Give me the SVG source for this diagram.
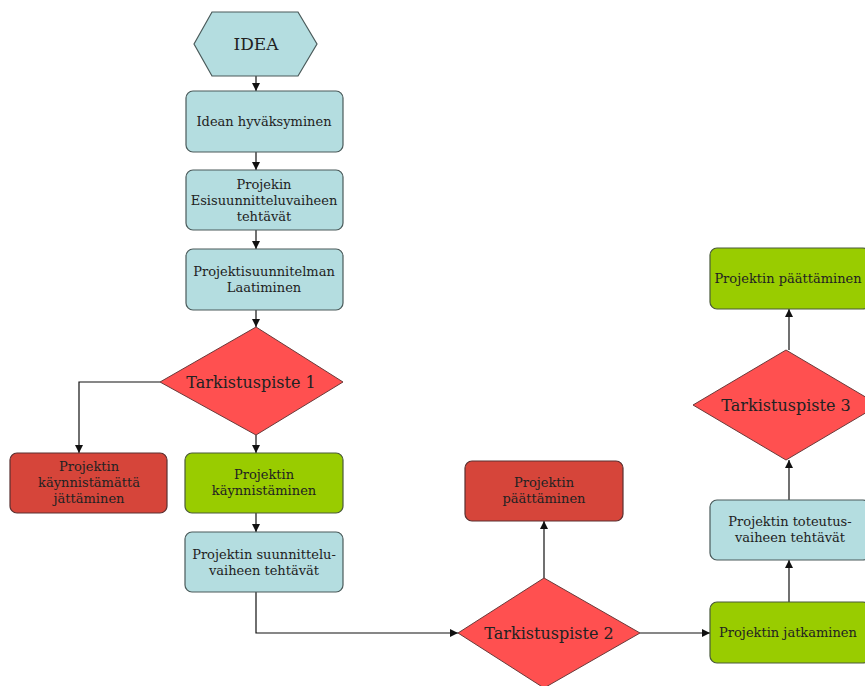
<svg xmlns="http://www.w3.org/2000/svg" width="865" height="686" viewBox="0 0 865 686">
<style>
.blue{fill:#b4dde0;stroke:#4a5a5a;stroke-width:1.2}
.green{fill:#99cc00;stroke:#4a5a3a;stroke-width:1.2}
.dred{fill:#d6453a;stroke:#5a3030;stroke-width:1.2}
.dia{fill:#ff5050;stroke:#6a3a3a;stroke-width:1}
text{font-family:"DejaVu Serif","Liberation Serif",serif;fill:#222;text-anchor:middle}
.t{font-size:13px}
.d{font-size:16px}
.c{fill:none;stroke:#111;stroke-width:1.2;marker-end:url(#ah)}
</style>
<defs>
<marker id="ah" viewBox="0 0 10 10" refX="10" refY="5" markerWidth="8" markerHeight="8" markerUnits="userSpaceOnUse" orient="auto">
<path d="M0,0L10,5L0,10z" fill="#111"/>
</marker>
</defs>
<rect width="865" height="686" fill="#fff"/>
<g id="connectors">
<path class="c" d="M256,76V91"/>
<path class="c" d="M256,152V170"/>
<path class="c" d="M256,230V249"/>
<path class="c" d="M256,310V327"/>
<path class="c" d="M160,382H79V453"/>
<path class="c" d="M256,435V453"/>
<path class="c" d="M256,513V532"/>
<path class="c" d="M256,592V633H458"/>
<path class="c" d="M544,578V521"/>
<path class="c" d="M640,633H710"/>
<path class="c" d="M789,602V560"/>
<path class="c" d="M789,500V460"/>
<path class="c" d="M789,350V309"/>
</g>
<g id="idea">
<polygon class="blue" points="194,44 212,12 298,12 317,44 298,76 212,76"/>
<text x="256" y="50" style="font-size:17px">IDEA</text>
</g>
<g id="hyvaksyminen">
<rect class="blue" x="186" y="91" width="157" height="61" rx="7"/>
<text class="t" x="264" y="126">Idean hyväksyminen</text>
</g>
<g id="esisuunnittelu">
<rect class="blue" x="186" y="170" width="157" height="60" rx="7"/>
<text class="t" x="264" y="189">Projekin</text>
<text class="t" x="264" y="205">Esisuunnitteluvaiheen</text>
<text class="t" x="264" y="221">tehtävät</text>
</g>
<g id="suunnitelma">
<rect class="blue" x="186" y="249" width="157" height="61" rx="7"/>
<text class="t" x="264" y="276">Projektisuunnitelman</text>
<text class="t" x="264" y="292">Laatiminen</text>
</g>
<g id="tp1">
<polygon class="dia" points="160,382 256,327 343,382 256,435"/>
<text class="d" x="251" y="388">Tarkistuspiste 1</text>
</g>
<g id="kaynnistamatta">
<rect class="dred" x="10" y="453" width="157" height="60" rx="7"/>
<text class="t" x="89" y="471">Projektin</text>
<text class="t" x="89" y="487">käynnistämättä</text>
<text class="t" x="89" y="503">jättäminen</text>
</g>
<g id="kaynnistaminen">
<rect class="green" x="185" y="453" width="158" height="60" rx="7"/>
<text class="t" x="264" y="479">Projektin</text>
<text class="t" x="264" y="495">käynnistäminen</text>
</g>
<g id="suunnitteluvaihe">
<rect class="blue" x="185" y="532" width="158" height="60" rx="7"/>
<text class="t" x="264" y="559">Projektin suunnittelu-</text>
<text class="t" x="264" y="575">vaiheen tehtävät</text>
</g>
<g id="tp2">
<polygon class="dia" points="458,633 544,578 640,633 544,688"/>
<text class="d" x="549" y="639">Tarkistuspiste 2</text>
</g>
<g id="paattaminen2">
<rect class="dred" x="465" y="461" width="158" height="60" rx="7"/>
<text class="t" x="544" y="487">Projektin</text>
<text class="t" x="544" y="503">päättäminen</text>
</g>
<g id="jatkaminen">
<rect class="green" x="710" y="602" width="160" height="61" rx="7"/>
<text class="t" x="788" y="637">Projektin jatkaminen</text>
</g>
<g id="toteutus">
<rect class="blue" x="710" y="500" width="160" height="60" rx="7"/>
<text class="t" x="790" y="526">Projektin toteutus-</text>
<text class="t" x="790" y="542">vaiheen tehtävät</text>
</g>
<g id="tp3">
<polygon class="dia" points="693,405 786,350 879,405 786,460"/>
<text class="d" x="786" y="411">Tarkistuspiste 3</text>
</g>
<g id="paattaminen3">
<rect class="green" x="710" y="248" width="160" height="61" rx="7"/>
<text class="t" x="788" y="283">Projektin päättäminen</text>
</g>
</svg>
